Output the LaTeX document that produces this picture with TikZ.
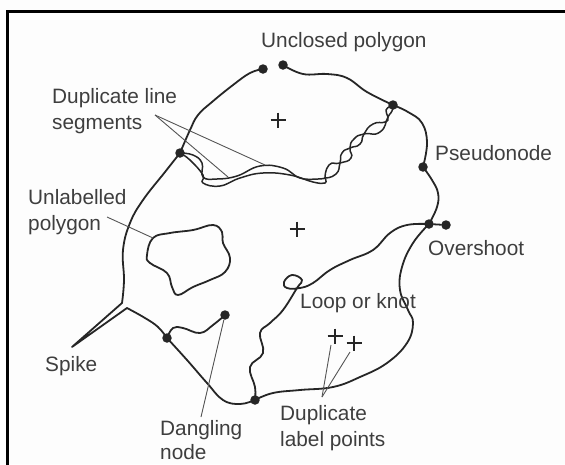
\documentclass[tikz,border=0pt]{standalone}
\usepackage{fontspec}
\setmainfont{Liberation Sans}
\usepackage{tikz}
\usetikzlibrary{positioning, calc}
\definecolor{inkdark}{RGB}{38,38,38}
\definecolor{inklabel}{RGB}{62,62,62}
\definecolor{inkleader}{RGB}{85,85,85}
\definecolor{paperwhite}{RGB}{253,253,253}
\tikzset{
    mapframe/.style={line width=3pt, black, line cap=rect},
    maparc/.style={inkdark, line width=1.8pt, line join=round, line cap=round},
    mapdup/.style={maparc, line width=1.5pt},
    mapnode/.style={circle, fill=inkdark, draw=none, inner sep=0pt, minimum size=9.5pt},
    mapleader/.style={inkleader, line width=0.9pt},
    maplabel/.style={anchor=west, align=left, inner sep=0pt, text=inklabel, font=\fontsize{20.8}{26.5}\selectfont},
    mapplus/.style={inkdark, line width=1.6pt}
}

\begin{document}
\begin{tikzpicture}[x=1pt, y=-1pt]

\useasboundingbox (0,0) rectangle (565,464);
\fill[paperwhite] (0,0) rectangle (565,464);
\draw[mapframe] (7.5,466) -- (7.5,11.5) -- (567,11.5);

\node[mapnode] (n1) at (263,69) {};
\node[mapnode] (n2) at (283,65) {};
\node[mapnode] (n3) at (393,105) {};
\node[mapnode] (n4) at (180,153) {};
\node[mapnode] (n5) at (423,167) {};
\node[mapnode] (n6) at (429,224) {};
\node[mapnode] (n7) at (446,225) {};
\node[mapnode] (n8) at (255,400) {};
\node[mapnode] (n9) at (167,338) {};
\node[mapnode] (n10) at (225,315) {};

\coordinate (spikeup) at (122,303);
\coordinate (spiketip) at (72,347);
\coordinate (spikelow) at (127,308);
\coordinate (wave0) at (325,178);
\coordinate (wave1) at (340,163);
\coordinate (wave2) at (350,148);
\coordinate (wave3) at (364,134);
\coordinate (wave4) at (388,117);

\draw[maparc] plot[smooth, tension=0.7] coordinates {(n1) (250,73) (233,85) (212,102) (198,115) (190,130) (n4)};
\draw[maparc] plot[smooth, tension=0.7] coordinates {(n4) (165,172) (143,200) (130,223) (123,250) (124,280) (spikeup)};
\draw[maparc] (spikeup) -- (spiketip) -- (spikelow);
\draw[maparc] plot[smooth, tension=0.7] coordinates {(spikelow) (145,318) (158,327) (n9)};
\draw[maparc] plot[smooth, tension=0.7] coordinates {(n9) (187,360) (207,383) (223,400) (240,404) (n8)};
\draw[maparc] plot[smooth, tension=0.7] coordinates {(n8) (273,393) (300,390) (333,387) (360,377) (387,363) (407,343) (413,323) (408,310) (400,290) (402,267) (413,243) (n6)};
\draw[maparc] plot[smooth, tension=0.7] coordinates {(n6) (437,207) (438,193) (432,180) (n5)};
\draw[maparc] plot[smooth, tension=0.7] coordinates {(n5) (427,143) (422,123) (408,112) (n3)};
\draw[maparc] plot[smooth, tension=0.7] coordinates {(n3) (367,92) (347,78) (327,74) (303,74) (n2)};
\draw[maparc] (n6) -- (n7);
\draw[maparc] plot[smooth, tension=0.7] coordinates {(n6) (407,225) (390,233) (373,250) (350,260) (330,270) (313,283) (300,288) (287,288) (284,282) (292,275) (302,280) (297,288) (283,310) (270,323) (260,333) (263,353) (250,367) (255,387) (n8)};
\draw[maparc] plot[smooth, tension=0.7] coordinates {(n9) (173,328) (183,328) (200,333) (213,325) (n10)};
\draw[maparc] plot[smooth cycle, tension=0.7] coordinates {(153,238) (170,233) (193,230) (213,225) (222,232) (223,243) (230,258) (225,272) (210,280) (193,287) (178,295) (172,287) (167,273) (150,263) (147,255)};

\draw[mapdup] plot[smooth, tension=0.75] coordinates {(n4) (193,155) (202,163) (203,177) (217,179) (237,176) (260,166) (283,168) (300,178) (318,179) (wave0)};
\draw[mapdup] plot[smooth, tension=0.75] coordinates {(n4) (190,160) (203,175) (203,183) (220,186) (240,178) (263,173) (290,175) (313,182) (325,183) (wave0)};
\draw[mapdup] plot[smooth, tension=1] coordinates {(wave0) (329,165) (wave1) (351,158) (wave2) (354,139) (wave3) (380,132) (wave4) (392,111) (n3)};
\draw[mapdup] plot[smooth, tension=1] coordinates {(wave0) (336,174) (wave1) (342,153) (wave2) (360,144) (wave3) (373,124) (385,122) (wave4) (386,110) (n3)};

\foreach \px/\py in {278/120, 297/229, 335/336, 354/343} {
    \draw[mapplus] (\px-7.5,\py) -- (\px+7.5,\py) (\px,\py-7.5) -- (\px,\py+7.5);
}

\node[maplabel] (unclosed) at (261,42) {Unclosed polygon};
\node[maplabel] (duplines) at (52,111) {Duplicate line\\segments};
\node[maplabel] (pseudo) at (435,153) {Pseudonode};
\node[maplabel] (unlabelled) at (28,212) {Unlabelled\\polygon};
\node[maplabel] (overshoot) at (428,248) {Overshoot};
\node[maplabel] (loopknot) at (300,303) {Loop or knot};
\node[maplabel] (spike) at (45,366) {Spike};
\node[maplabel, font=\fontsize{20.8}{24}\selectfont] (dangling) at (160,440) {Dangling\\node};
\node[maplabel] (duppoints) at (280,428) {Duplicate\\label points};

\coordinate (dlapex) at (155,115);
\coordinate (dlend1) at (228,177);
\coordinate (dlend2) at (265,165);
\coordinate (ulstart) at (107,217);
\coordinate (ulend) at (153,238);
\coordinate (dnstart) at (201,417);
\coordinate (dpapex) at (322,397);
\coordinate (dpend1) at (331,345);
\coordinate (dpend2) at (350,352);

\draw[mapleader] (dlapex) -- (dlend1);
\draw[mapleader] (dlapex) -- (dlend2);
\draw[mapleader] (ulstart) -- (ulend);
\draw[mapleader] (dnstart) -- (n10);
\draw[mapleader] (dpapex) -- (dpend1);
\draw[mapleader] (dpapex) -- (dpend2);

\end{tikzpicture}
\end{document}
